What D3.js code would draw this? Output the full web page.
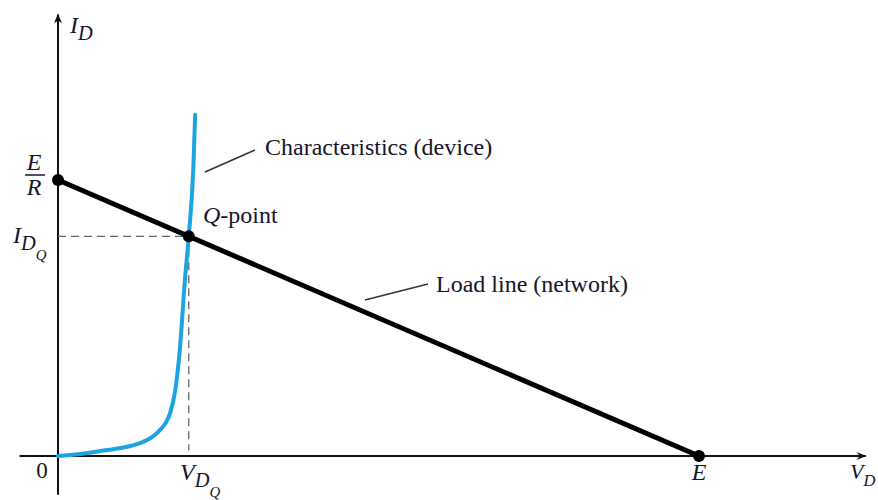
<!DOCTYPE html>
<html>
<head>
<meta charset="utf-8">
<script src="https://cdn.jsdelivr.net/npm/d3@7"></script>
<style>
  html, body { margin: 0; padding: 0; background: #fff; }
  svg { display: block; }
</style>
</head>
<body>
<svg id="chart" width="878" height="500"></svg>
<script>
// ---- data (arbitrary units: E = 10 V, R = 1 kΩ) ----
const E = 10;
const R = 1;
const vAxisExtent = [-0.6, 12.6];
const iAxisExtent = [-1.4, 16];
// diode characteristic (V_D, I_D)
const diodeV = [0, 0.34, 0.66, 1.0, 1.28, 1.45, 1.59, 1.68, 1.75, 1.83, 1.90, 1.98, 2.04, 2.11, 2.14];
const diodeI = [0, 0.07, 0.18, 0.3, 0.47, 0.66, 0.94, 1.2, 1.56, 2.39, 3.84, 6.38, 7.97, 10.36, 12.36];
const qPoint = { v: 2.04, i: 7.96 };
const loadV = [0, E];
const loadI = [E / R, 0];

const FONT = "'Liberation Serif'";
const TXT = "#14142a";

const svg = d3.select("#chart");
const x = d3.scaleLinear().domain([0, 10]).range([58, 699]);
const y = d3.scaleLinear().domain([0, 10]).range([456, 180]);

// arrow marker
const defs = svg.append("defs");
defs.append("marker")
  .attr("id", "arrow").attr("viewBox", "0 0 10 10")
  .attr("refX", 9).attr("refY", 5)
  .attr("markerWidth", 10).attr("markerHeight", 10)
  .attr("markerUnits", "userSpaceOnUse")
  .attr("orient", "auto")
  .append("path").attr("d", "M0,1 L10,5 L0,9 L3,5 Z").attr("fill", "#111");

// axes
svg.append("line")
  .attr("x1", x(vAxisExtent[0])).attr("y1", y(0))
  .attr("x2", x(vAxisExtent[1])).attr("y2", y(0))
  .attr("stroke", "#111").attr("stroke-width", 2).attr("marker-end", "url(#arrow)");
svg.append("line")
  .attr("x1", x(0)).attr("y1", y(iAxisExtent[0]))
  .attr("x2", x(0)).attr("y2", y(iAxisExtent[1]))
  .attr("stroke", "#111").attr("stroke-width", 2).attr("marker-end", "url(#arrow)");

// dashed guides to Q-point
svg.append("line")
  .attr("x1", x(0)).attr("y1", y(qPoint.i))
  .attr("x2", x(qPoint.v)).attr("y2", y(qPoint.i))
  .attr("stroke", "#666").attr("stroke-width", 1.3).attr("stroke-dasharray", "8,5");
svg.append("line")
  .attr("x1", x(qPoint.v)).attr("y1", y(qPoint.i))
  .attr("x2", x(qPoint.v)).attr("y2", y(0.2))
  .attr("stroke", "#666").attr("stroke-width", 1.3).attr("stroke-dasharray", "8,5");

// diode characteristic
const diodePts = diodeV.map((v, k) => [v, diodeI[k]]);
svg.append("path")
  .datum(diodePts)
  .attr("d", d3.line().x(d => x(d[0])).y(d => y(d[1])).curve(d3.curveMonotoneX))
  .attr("fill", "none").attr("stroke", "#1ba4e2").attr("stroke-width", 4)
  .attr("stroke-linecap", "round");

// load line
const loadPts = loadV.map((v, k) => [v, loadI[k]]);
svg.append("path")
  .datum(loadPts)
  .attr("d", d3.line().x(d => x(d[0])).y(d => y(d[1])))
  .attr("fill", "none").attr("stroke", "#000").attr("stroke-width", 5);

// dots
[[0, E / R], [qPoint.v, qPoint.i], [E, 0]].forEach(p => {
  svg.append("circle").attr("cx", x(p[0])).attr("cy", y(p[1])).attr("r", 6).attr("fill", "#000");
});

// leader lines
svg.append("line").attr("x1", 205).attr("y1", 172).attr("x2", 255).attr("y2", 150)
  .attr("stroke", "#333").attr("stroke-width", 1.6);
svg.append("line").attr("x1", 365).attr("y1", 300).attr("x2", 428).attr("y2", 284)
  .attr("stroke", "#333").attr("stroke-width", 1.6);

function txt(xp, yp, size) {
  return svg.append("text").attr("x", xp).attr("y", yp).attr("font-size", size)
    .style("font-family", FONT).attr("fill", TXT);
}

// annotations
txt(265, 155, 24).text("Characteristics (device)");
txt(436, 292, 24).text("Load line (network)");
const qt = txt(203, 223, 24);
qt.append("tspan").attr("font-style", "italic").text("Q");
qt.append("tspan").text("-point");

// axis labels
function subLabel(xp, yp, main, sub, subsub, size, subScale) {
  const t = txt(xp, yp, size).attr("font-style", "italic");
  t.append("tspan").text(main);
  t.append("tspan").attr("dy", size * 0.3).attr("font-size", size * (subScale || 0.85)).text(sub);
  if (subsub) t.append("tspan").attr("dy", size * 0.4).attr("font-size", size * 0.62).text(subsub);
  return t;
}
subLabel(70, 33, "I", "D", null, 24);
subLabel(13, 243, "I", "D", "Q", 24);
subLabel(180, 480, "V", "D", "Q", 24);
subLabel(850, 479, "V", "D", null, 22, 0.75);
txt(699, 480, 24).attr("font-style", "italic").attr("text-anchor", "middle").text("E");
txt(42, 478, 23).attr("text-anchor", "middle").text("0");

// E/R fraction
txt(34, 170, 24).attr("font-style", "italic").attr("text-anchor", "middle").text("E");
svg.append("line").attr("x1", 25).attr("x2", 45).attr("y1", 175).attr("y2", 175)
  .attr("stroke", TXT).attr("stroke-width", 1.5);
txt(34, 195, 24).attr("font-style", "italic").attr("text-anchor", "middle").text("R");
</script>
</body>
</html>
